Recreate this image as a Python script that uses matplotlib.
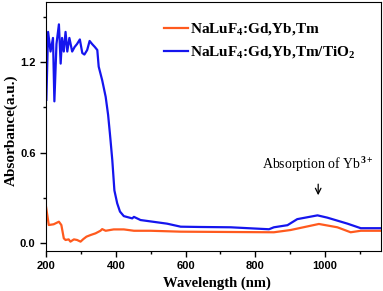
import numpy as np
import matplotlib
matplotlib.use("Agg")
import matplotlib.pyplot as plt
from matplotlib.ticker import MultipleLocator

# NaLuF4:Gd,Yb,Tm/TiO2 (blue)
wl_tio2 = [201, 206, 213, 220, 224, 230, 237, 242, 246, 251, 256, 261, 267, 275, 282,
           289, 297, 304, 310, 318, 325, 332, 340, 347, 351, 361, 371, 378, 383, 385,
           390, 396, 404, 412, 423, 447, 452, 471, 547, 586, 643, 729, 839, 853, 892,
           920, 978, 1006, 1064, 1102, 1160]
abs_tio2 = [0.95, 1.40, 1.27, 1.36, 0.94, 1.32, 1.45, 1.19, 1.36, 1.27, 1.40, 1.27, 1.36,
            1.27, 1.30, 1.32, 1.35, 1.26, 1.25, 1.28, 1.34, 1.32, 1.30, 1.28, 1.17, 1.08,
            0.97, 0.85, 0.73, 0.68, 0.55, 0.35, 0.265, 0.21, 0.18, 0.165, 0.175, 0.154,
            0.13, 0.11, 0.108, 0.106, 0.093, 0.106, 0.12, 0.16, 0.185, 0.17, 0.13, 0.10, 0.10]

# NaLuF4:Gd,Yb,Tm (orange)
wl_nalu = [200, 208, 222, 237, 244, 251, 256, 265, 270, 280, 289, 299, 307, 316, 328,
           342, 356, 361, 371, 394, 423, 452, 500, 586, 853, 901, 982, 1035, 1073, 1102, 1160]
abs_nalu = [0.243, 0.121, 0.126, 0.143, 0.121, 0.033, 0.022, 0.026, 0.011, 0.026, 0.022,
            0.011, 0.028, 0.044, 0.055, 0.066, 0.083, 0.094, 0.083, 0.092, 0.092, 0.083,
            0.083, 0.077, 0.073, 0.088, 0.128, 0.106, 0.073, 0.083, 0.083]

plt.rcParams['mathtext.fontset'] = 'custom'
plt.rcParams['mathtext.rm'] = 'Liberation Serif:bold'
plt.rcParams['mathtext.bf'] = 'Liberation Serif:bold'

fig = plt.figure(figsize=(3.83, 2.91), dpi=100)
ax = fig.add_axes([46/383, 40/291, 335/383, 249/291])

ax.plot(wl_nalu, abs_nalu, color='#ff5a1e', lw=1.6, label=r'NaLuF$_\mathbf{4}$:Gd,Yb,Tm')
ax.plot(wl_tio2, abs_tio2, color='#1515ee', lw=1.6, label=r'NaLuF$_\mathbf{4}$:Gd,Yb,Tm/TiO$_\mathbf{2}$')

ax.set_xlim(200, 1160)
ax.set_ylim(-0.051, 1.598)
ax.xaxis.set_major_locator(MultipleLocator(200))
ax.xaxis.set_minor_locator(MultipleLocator(100))
ax.yaxis.set_major_locator(MultipleLocator(0.6))
ax.yaxis.set_minor_locator(MultipleLocator(0.3))
ax.tick_params(which='both', direction='out', top=False, right=False)
ax.tick_params(which='major', length=4, width=1)
ax.tick_params(which='minor', length=2.5, width=1)
for lab in ax.get_xticklabels() + ax.get_yticklabels():
    lab.set_fontfamily('Liberation Sans')
    lab.set_fontweight('bold')
    lab.set_fontsize(8)

ax.set_xlabel('Wavelength (nm)', family='Liberation Serif', weight='bold', fontsize=10.5)
ax.set_ylabel('Absorbance(a.u.)', family='Liberation Serif', weight='bold', fontsize=11)
ax.yaxis.set_label_coords(-0.084, 0.486)
ax.xaxis.set_label_coords(0.51, -0.103)

leg = ax.legend(loc='upper left', bbox_to_anchor=(0.31, 0.975), frameon=False,
                handlelength=1.6, handletextpad=0.1, labelspacing=0.4,
                prop={'family': 'Liberation Serif', 'weight': 'bold', 'size': 11})

ax.text(980, 0.46, 'Absorption of Yb$^{3+}$', family='Liberation Serif', fontsize=10,
        ha='center', va='bottom')
ax.annotate('', xy=(980, 0.30), xytext=(980, 0.41),
            arrowprops=dict(arrowstyle='->', color='black', lw=0.9))

fig.savefig('out.png', dpi=100)
